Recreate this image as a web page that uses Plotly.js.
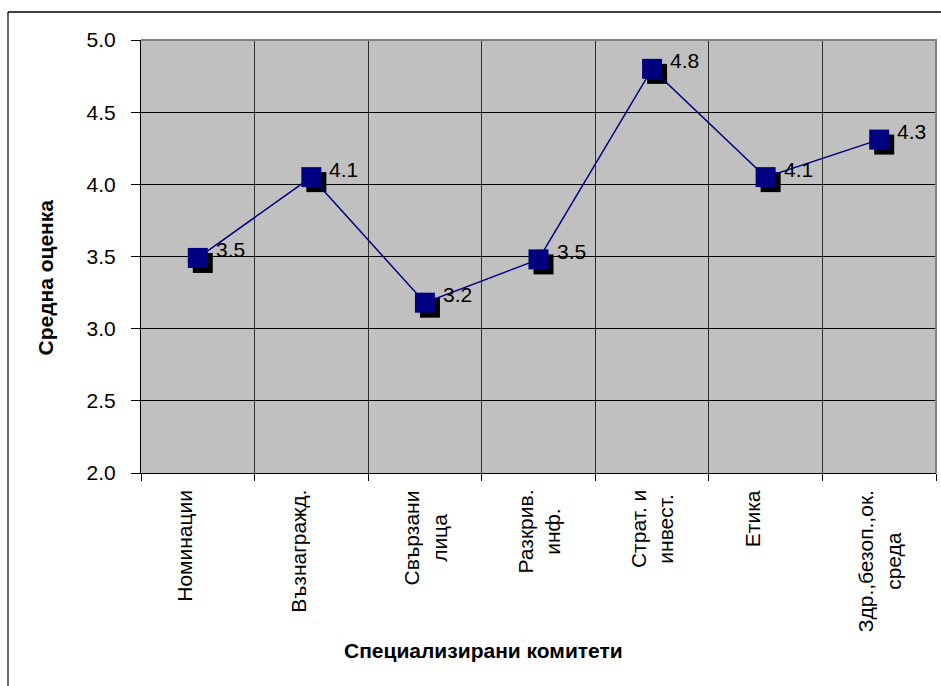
<!DOCTYPE html>
<html><head><meta charset="utf-8">
<script src="https://cdn.plot.ly/plotly-3.0.1.min.js"></script>
<style>html,body{margin:0;padding:0;background:#fff;overflow:hidden}#chart{width:941px;height:686px}</style>
</head><body><div id="chart"></div>
<script>
// ---- data ----
const categories = ['Номинации', 'Възнагражд.', 'Свързани<br>лица', 'Разкрив.<br>инф.', 'Страт. и<br>инвест.', 'Етика', 'Здр.,безоп.,ок.<br>среда'];
const scores = [3.49, 4.05, 3.18, 3.48, 4.80, 4.05, 4.31];
const scoreLabels = ['3.5', '4.1', '3.2', '3.5', '4.8', '4.1', '4.3'];
const yTitleText = 'Средна оценка';
const xTitleText = 'Специализирани комитети';

// ---- geometry (pixels) ----
const W = 941, H = 686;
const L = 141, T = 40, PR = 936, PB = 473, SH = 5;
const dw = PR + SH - L, dh = PB + SH - T;
const px2x = p => (p - L) / dw;
const py2y = p => (PB + SH - p) / dh;
const FONT = 'Liberation Sans, Arial, sans-serif';

const mainTrace = {
  x: categories, y: scores, xaxis: 'x2', yaxis: 'y2', type: 'scatter', mode: 'lines+markers',
  line: {color: '#000080', width: 1.5},
  marker: {symbol: 'square', size: 20, color: '#000080'},
  hoverinfo: 'skip'
};
const shadowTrace = {
  x: categories, y: scores, xaxis: 'x', yaxis: 'y', type: 'scatter', mode: 'markers',
  marker: {symbol: 'square', size: 20, color: '#000000'},
  hoverinfo: 'skip'
};

const annotations = [];
categories.forEach((c, i) => {
  annotations.push({
    x: c, y: scores[i], xref: 'x2', yref: 'y2', text: scoreLabels[i], showarrow: false,
    xanchor: 'left', yanchor: 'middle', xshift: 16, yshift: 8,
    font: {family: FONT, size: 21, color: '#000'}
  });
  annotations.push({
    x: c, y: py2y(PB), xref: 'x2', yref: 'paper',
    text: c.indexOf('<br>') >= 0 ? c : c + '<br>&nbsp;',
    textangle: -90, align: 'center', xanchor: 'center', yanchor: 'top', yshift: -15,
    showarrow: false, font: {family: FONT, size: 21, color: '#000'}
  });
});
annotations.push({
  x: px2x(483.5), y: py2y(650), xref: 'paper', yref: 'paper', text: '<b>' + xTitleText + '</b>',
  showarrow: false, xanchor: 'center', yanchor: 'middle', font: {family: FONT, size: 21, color: '#000'}
});
annotations.push({
  x: px2x(45), y: py2y(277.5), xref: 'paper', yref: 'paper', text: '<b>' + yTitleText + '</b>',
  textangle: -90, showarrow: false, xanchor: 'center', yanchor: 'middle', font: {family: FONT, size: 21, color: '#000'}
});

const shapes = [
  {type: 'rect', xref: 'paper', yref: 'paper', x0: px2x(L), x1: px2x(PR), y0: py2y(PB), y1: py2y(T),
   fillcolor: '#c0c0c0', line: {width: 0}, layer: 'below'},
  {type: 'path', xref: 'paper', yref: 'paper', layer: 'above',
   path: 'M ' + px2x(L) + ',' + py2y(T) + ' L ' + px2x(PR) + ',' + py2y(T) + ' L ' + px2x(PR) + ',' + py2y(PB),
   line: {color: '#808080', width: 2}},
  {type: 'rect', xref: 'paper', yref: 'paper', layer: 'above',
   x0: px2x(PR + 3), x1: px2x(W + 10), y0: py2y(H + 10), y1: py2y(14),
   fillcolor: '#ffffff', line: {width: 0}},
  {type: 'line', xref: 'paper', yref: 'paper', layer: 'above',
   x0: px2x(8), x1: px2x(8), y0: py2y(12), y1: py2y(H),
   line: {color: '#333', width: 1.5}},
  {type: 'line', xref: 'paper', yref: 'paper', layer: 'above',
   x0: px2x(8), x1: px2x(W), y0: py2y(12), y1: py2y(12),
   line: {color: '#000', width: 1.5}}
];

const layout = {
  width: W, height: H,
  margin: {l: L, r: W - (PR + SH), t: T, b: H - (PB + SH), pad: 0},
  paper_bgcolor: '#ffffff', plot_bgcolor: 'rgba(0,0,0,0)',
  showlegend: false,
  font: {family: FONT, size: 21, color: '#000'},
  xaxis: {domain: [px2x(L + SH), 1], anchor: 'y', type: 'category', categoryarray: categories,
          range: [-0.5, 6.5], visible: false},
  yaxis: {domain: [0, py2y(T + SH)], anchor: 'x', range: [2, 5], visible: false},
  xaxis2: {domain: [0, px2x(PR)], anchor: 'y2', type: 'category', categoryarray: categories,
           range: [-0.5, 6.5], tickson: 'boundaries', ticks: 'outside', ticklen: 7, tickcolor: '#000',
           showticklabels: false, showgrid: true, gridcolor: '#303030', gridwidth: 1,
           showline: true, linecolor: '#000', linewidth: 1, zeroline: false},
  yaxis2: {domain: [py2y(PB), 1], anchor: 'x2', range: [2, 5], tick0: 2, dtick: 0.5, tickformat: '.1f',
           ticks: 'outside', ticklen: 9, tickcolor: '#000', ticklabelstandoff: 11,
           tickfont: {family: FONT, size: 21, color: '#000'},
           showgrid: true, gridcolor: '#000', gridwidth: 1, showline: true, linecolor: '#000', linewidth: 1,
           zeroline: false},
  annotations: annotations,
  shapes: shapes
};

Plotly.newPlot('chart', [shadowTrace, mainTrace], layout, {displayModeBar: false, staticPlot: true});
</script>
</body></html>
